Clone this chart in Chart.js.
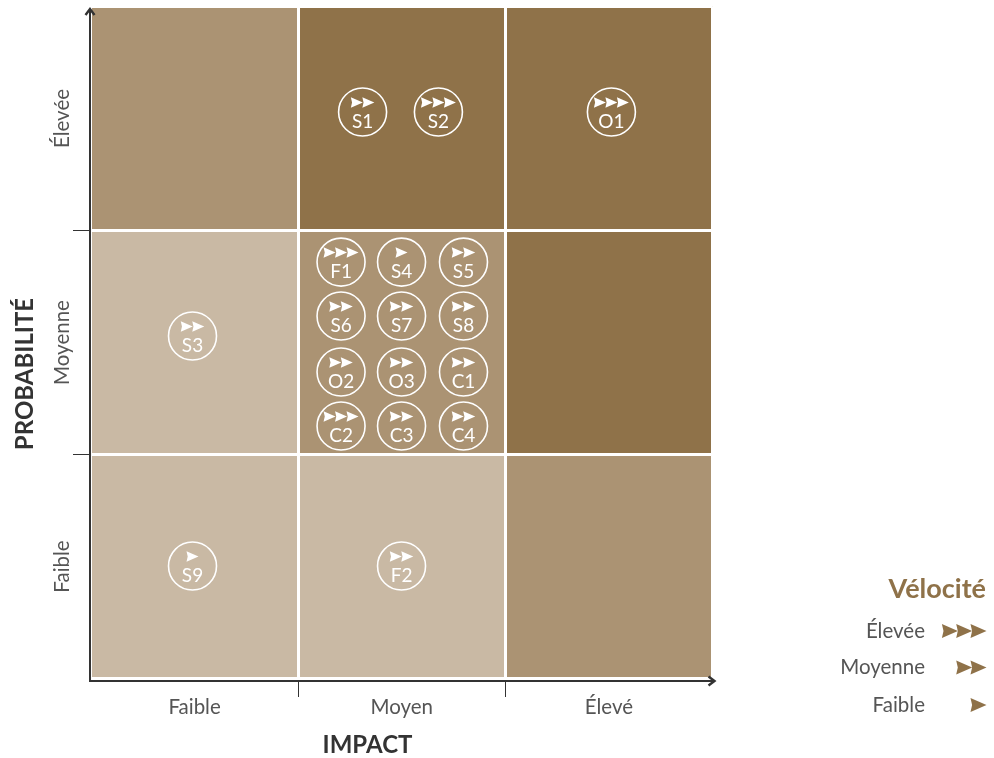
<!DOCTYPE html>
<html lang="fr">
<head>
    <meta charset="UTF-8">
    <title>Matrice des risques</title>
    <script src="https://cdn.jsdelivr.net/npm/chart.js"></script>
    <style>
        html, body { margin: 0; padding: 0; background: #fff; overflow: hidden; }
        .container { position: relative; width: 994px; height: 758px; }
    </style>
</head>
<body>
    <div class="container"><canvas id="riskChart"></canvas></div>

    <script>
// axes
const impactLabels = ['Faible', 'Moyen', 'Élevé'];
const probabilityLabels = ['Faible', 'Moyenne', 'Élevée'];

// matrix level per cell, rows from Faible up to Élevée
const cellLevels = [
    [0, 0, 1],
    [0, 1, 2],
    [1, 2, 2]
];

// risks, positions in axis units (0 = centre of the first category)
const riskCodes = ['S1', 'S2', 'O1', 'F1', 'S4', 'S5', 'S6', 'S7', 'S8', 'O2', 'O3', 'C1', 'C2', 'C3', 'C4', 'S3', 'S9', 'F2'];
const riskImpact = [0.811, 1.177, 2.012, 0.707, 0.999, 1.298, 0.707, 0.999, 1.298, 0.707, 0.999, 1.298, 0.707, 0.999, 1.298, -0.01, -0.01, 0.999];
const riskProbability = [2.029, 2.029, 2.029, 1.359, 1.359, 1.359, 1.118, 1.118, 1.118, 0.868, 0.868, 0.868, 0.627, 0.627, 0.627, 1.029, 0.002, 0.002];
const riskVelocity = [2, 3, 3, 3, 1, 2, 2, 2, 2, 2, 2, 2, 3, 2, 2, 2, 1, 2];

// legend
const velocityTitle = 'Vélocité';
const velocityLabels = ['Élevée', 'Moyenne', 'Faible'];
const velocityCounts = [3, 2, 1];

const levelColors = ['#c9b9a4', '#ab9373', '#8f7249'];
const brown = '#8f7249';
const axisColor = '#333333';
const textColor = '#555555';
const fontName = 'Lato, "Open Sans", sans-serif';

function drawArrows(ctx, count, right, cy, w, h, step, color) {
    ctx.fillStyle = color;
    for (let i = 0; i < count; i++) {
        const x = right - w - i * step;
        ctx.beginPath();
        ctx.moveTo(x, cy - h / 2);
        ctx.lineTo(x + w, cy);
        ctx.lineTo(x, cy + h / 2);
        ctx.lineTo(x + w * 0.1, cy);
        ctx.closePath();
        ctx.fill();
    }
}

// coloured cells, under the white grid lines
const cellsPlugin = {
    id: 'cells',
    beforeDraw(chart) {
        const { ctx, scales: { x, y } } = chart;
        cellLevels.forEach((row, r) => {
            row.forEach((level, c) => {
                const x0 = x.getPixelForValue(c - 0.5);
                const x1 = x.getPixelForValue(c + 0.5);
                const y0 = y.getPixelForValue(r + 0.5);
                const y1 = y.getPixelForValue(r - 0.5);
                ctx.fillStyle = levelColors[level];
                ctx.fillRect(x0, y0, x1 - x0, y1 - y0);
            });
        });
    }
};

// arrows and codes inside the circles, axis lines, axis titles, legend
const annotationsPlugin = {
    id: 'annotations',
    afterDraw(chart) {
        const { ctx } = chart;
        ctx.save();

        chart.getDatasetMeta(0).data.forEach((pt, i) => {
            const n = riskVelocity[i];
            const step = 11.5;
            const total = 12 + (n - 1) * step;
            drawArrows(ctx, n, pt.x + total / 2, pt.y - 9.5, 12, 10.5, step, '#ffffff');
            ctx.fillStyle = '#ffffff';
            ctx.font = '400 19px ' + fontName;
            ctx.textAlign = 'center';
            ctx.textBaseline = 'middle';
            ctx.fillText(riskCodes[i], pt.x, pt.y + 9.5);
        });

        // axis lines with open arrow heads
        ctx.strokeStyle = axisColor;
        ctx.lineWidth = 2;
        ctx.beginPath();
        ctx.moveTo(90, 681);
        ctx.lineTo(90, 10);
        ctx.moveTo(89, 681);
        ctx.lineTo(714, 681);
        ctx.stroke();
        ctx.lineWidth = 2.4;
        ctx.beginPath();
        ctx.moveTo(85.5, 15);
        ctx.lineTo(90, 9);
        ctx.lineTo(94.5, 15);
        ctx.moveTo(708.5, 676.5);
        ctx.lineTo(714.5, 681);
        ctx.lineTo(708.5, 685.5);
        ctx.stroke();

        // axis titles
        ctx.fillStyle = '#333333';
        ctx.font = 'bold 24px ' + fontName;
        ctx.textAlign = 'center';
        ctx.textBaseline = 'middle';
        ctx.fillText('IMPACT', 367.5, 745);
        ctx.save();
        ctx.translate(25, 374);
        ctx.rotate(-Math.PI / 2);
        ctx.fillText('PROBABILITÉ', 0, 0);
        ctx.restore();

        // legend
        ctx.textAlign = 'right';
        ctx.fillStyle = brown;
        ctx.font = 'bold 27px ' + fontName;
        ctx.fillText(velocityTitle, 986, 589);
        const rowY = [631, 667.5, 705];
        velocityLabels.forEach((label, i) => {
            ctx.fillStyle = textColor;
            ctx.font = '400 20.5px ' + fontName;
            ctx.textAlign = 'right';
            ctx.fillText(label, 925, rowY[i]);
            drawArrows(ctx, velocityCounts[i], 986.5, rowY[i], 16, 14, 14.3, brown);
        });
        ctx.restore();
    }
};

const tickColor = (c) => (c.index === 1 || c.index === 2 ? axisColor : 'transparent');

new Chart(document.getElementById('riskChart'), {
    type: 'scatter',
    data: {
        datasets: [{
            data: riskCodes.map((code, i) => ({ x: riskImpact[i], y: riskProbability[i] })),
            pointRadius: 24,
            pointBorderColor: '#ffffff',
            pointBorderWidth: 1.6,
            pointBackgroundColor: 'transparent'
        }]
    },
    options: {
        responsive: true,
        maintainAspectRatio: false,
        animation: false,
        parsing: false,
        layout: { autoPadding: false, padding: { top: 6.5, right: 281.5, bottom: 0, left: 0 } },
        plugins: { legend: { display: false }, tooltip: { enabled: false } },
        scales: {
            x: {
                type: 'category',
                labels: impactLabels,
                offset: true,
                afterFit(scale) { scale.height = 79.5; },
                grid: { offset: true, color: '#ffffff', lineWidth: 3, tickColor: tickColor, tickWidth: 1, tickLength: 18.5 },
                border: { display: false },
                ticks: { color: textColor, font: { family: fontName, size: 20.5, weight: '400' }, padding: -2, maxRotation: 0 }
            },
            y: {
                type: 'category',
                labels: probabilityLabels,
                reverse: true,
                offset: true,
                afterFit(scale) { scale.width = 91; },
                grid: { offset: true, color: '#ffffff', lineWidth: 3, tickColor: tickColor, tickWidth: 1, tickLength: 18 },
                border: { display: false },
                ticks: { color: textColor, font: { family: fontName, size: 20.5, weight: '400' }, minRotation: 90, crossAlign: 'center', padding: -32 }
            }
        }
    },
    plugins: [cellsPlugin, annotationsPlugin]
});
    </script>
</body>
</html>
